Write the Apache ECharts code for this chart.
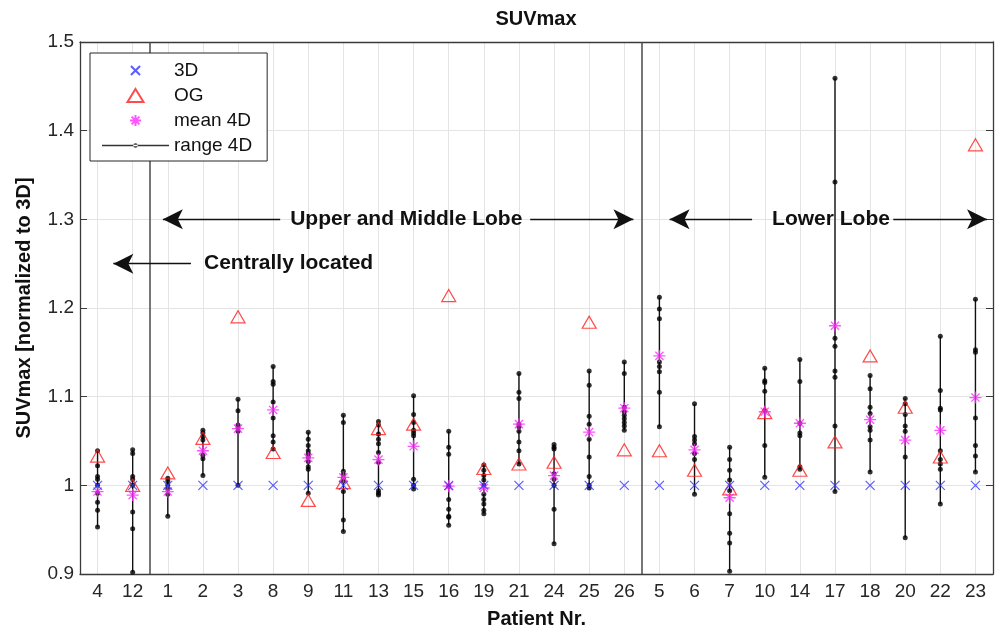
<!DOCTYPE html>
<html>
<head>
<meta charset="utf-8">
<script src="https://cdn.jsdelivr.net/npm/echarts@6.0.0/dist/echarts.min.js"></script>
<style>
  html, body { margin: 0; padding: 0; background: #fff; }
  #chart { width: 998px; height: 634px; }
</style>
</head>
<body>
<div id="chart"></div>
<script>
// patient order on the x axis
const patients = ['4', '12', '1', '2', '3', '8', '9', '11', '13', '15', '16', '19', '21', '24', '25', '26',
                  '5', '6', '7', '10', '14', '17', '18', '20', '22', '23'];

// normalized to 3D, so 3D is always 1
const suv3D = [1, 1, 1, 1, 1, 1, 1, 1, 1, 1, 1, 1, 1, 1, 1, 1, 1, 1, 1, 1, 1, 1, 1, 1, 1, 1];

const suvOG = [1.033, 1.0, 1.014, 1.053, 1.190, 1.037, 0.983, 1.003, 1.064, 1.069, 1.214, 1.019, 1.024,
               1.026, 1.184, 1.040, 1.039, 1.017, 0.996, 1.082, 1.017, 1.049, 1.146, 1.088, 1.032, 1.384];

const mean4D = [0.993, 0.989, 0.993, 1.039, 1.064, 1.085, 1.031, 1.009, 1.029, 1.044, 0.999, 0.997, 1.069,
                1.011, 1.060, 1.087, 1.146, 1.040, 0.986, 1.083, 1.070, 1.180, 1.074, 1.051, 1.062, 1.099];

// single phase values of the 4D scan, one list per patient
const range4D = [
  [1.039, 1.022, 1.010, 1.007, 1.0, 0.991, 0.981, 0.972, 0.953],
  [1.040, 1.036, 1.010, 1.007, 1.0, 0.970, 0.951, 0.902],
  [1.008, 1.005, 1.0, 0.996, 0.990, 0.965],
  [1.062, 1.059, 1.055, 1.051, 1.034, 1.030, 1.011],
  [1.097, 1.084, 1.068, 1.065, 1.061, 1.0],
  [1.134, 1.117, 1.114, 1.094, 1.076, 1.056, 1.049, 1.041],
  [1.060, 1.052, 1.045, 1.039, 1.036, 1.032, 1.027, 1.021, 1.018, 0.991],
  [1.079, 1.071, 1.016, 1.012, 1.008, 1.005, 0.993, 0.961, 0.948],
  [1.072, 1.068, 1.058, 1.052, 1.047, 1.037, 1.026, 0.994, 0.991, 0.989],
  [1.101, 1.080, 1.071, 1.062, 1.059, 1.056, 1.007, 1.0, 0.996],
  [1.061, 1.043, 1.035, 0.999, 0.984, 0.973, 0.965, 0.964, 0.955],
  [1.023, 1.017, 1.011, 1.006, 1.0, 0.990, 0.984, 0.979, 0.972, 0.968],
  [1.126, 1.105, 1.098, 1.069, 1.066, 1.061, 1.049, 1.039, 1.024],
  [1.046, 1.043, 1.041, 1.013, 1.007, 1.0, 0.973, 0.934],
  [1.129, 1.113, 1.078, 1.069, 1.052, 1.032, 1.010, 1.0, 0.997],
  [1.139, 1.126, 1.088, 1.083, 1.079, 1.075, 1.071, 1.067, 1.062],
  [1.212, 1.199, 1.188, 1.139, 1.134, 1.128, 1.105, 1.066],
  [1.092, 1.055, 1.051, 1.047, 1.036, 1.029, 0.990],
  [1.043, 1.029, 1.017, 1.006, 0.994, 0.968, 0.946, 0.935, 0.903],
  [1.132, 1.118, 1.116, 1.106, 1.084, 1.045, 1.009],
  [1.142, 1.117, 1.070, 1.059, 1.056, 1.021, 1.018],
  [1.459, 1.342, 1.166, 1.157, 1.129, 1.122, 1.067, 0.993],
  [1.124, 1.109, 1.088, 1.081, 1.066, 1.062, 1.051, 1.015],
  [1.098, 1.092, 1.080, 1.067, 1.061, 1.032, 0.941],
  [1.168, 1.107, 1.087, 1.085, 1.039, 1.029, 1.024, 1.018, 0.979],
  [1.210, 1.153, 1.150, 1.076, 1.045, 1.033, 1.015]
];

const font = "'Liberation Sans', Arial, Helvetica, sans-serif";
const axisColor = '#3a3a3a';
const gridColor = '#e4e4e4';

const xMark = 'path://M0,0L10,10M10,0L0,10';
const starMark = 'path://M5,0L5,10M0,5L10,5M1.6,1.6L8.4,8.4M8.4,1.6L1.6,8.4';

const chart = echarts.init(document.getElementById('chart'));

const dots = [];
range4D.forEach((vals, i) => vals.forEach(v => dots.push([i, v])));
const spans = range4D.map((vals, i) => [i, Math.min(...vals), Math.max(...vals)]);

// vertical grid through every patient, as in the matlab grid
const vGrid = patients.map((p, i) => [
  { coord: [i, 0.9], lineStyle: { color: gridColor, width: 1 } }, { coord: [i, 1.5] }
]);

const lbl = (text, dist) => ({
  show: true, position: 'end', distance: dist, formatter: text,
  fontFamily: font, fontSize: 21, fontWeight: 'bold', color: '#111'
});

chart.setOption({
  animation: false,
  title: {
    text: 'SUVmax', left: 536, top: 9, padding: 0, textAlign: 'center',
    textStyle: { fontFamily: font, fontSize: 20, fontWeight: 'bold', color: '#111' }
  },
  legend: {
    orient: 'vertical', left: 90, top: 53,
    padding: [8, 15, 6, 12],
    itemWidth: 67, itemHeight: 13, itemGap: 6,
    backgroundColor: '#fff', borderColor: '#262626', borderWidth: 1,
    borderRadius: 0,
    textStyle: { fontFamily: font, fontSize: 19, color: '#111' },
    data: [
      { name: '3D', icon: 'path://M0,0M20,20M3,3L17,17M17,3L3,17' },
      { name: 'OG', icon: 'path://M8,0L16,13L0,13Z' },
      { name: 'mean 4D', icon: 'path://M0,0M14,14M7,1L7,13M1,7L13,7M2.8,2.8L11.2,11.2M11.2,2.8L2.8,11.2' },
      { name: 'range 4D', icon: 'path://M0,5.25L134,5.25L134,8.25L0,8.25Z M67,6.75m-4.5,0a4.5,4.5 0 1,0 9,0a4.5,4.5 0 1,0 -9,0' }
    ],
    z: 10
  },
  grid: { left: 80, right: 5, top: 42, bottom: 57 },
  xAxis: [
    {
      type: 'category', data: patients, position: 'bottom',
      name: 'Patient Nr.', nameLocation: 'middle', nameGap: 35,
      nameTextStyle: { fontFamily: font, fontSize: 20, fontWeight: 'bold', color: '#111' },
      axisLine: { onZero: false, lineStyle: { color: axisColor, width: 1.3 } },
      axisTick: { inside: true, alignWithLabel: true, length: 7, lineStyle: { color: axisColor } },
      axisLabel: { interval: 0, margin: 8, fontFamily: font, fontSize: 19, color: '#262626' },
      splitLine: { show: false }
    },
    {
      type: 'category', data: patients, position: 'top',
      axisLine: { onZero: false, lineStyle: { color: axisColor, width: 1.3 } },
      axisTick: { inside: true, alignWithLabel: true, length: 7, lineStyle: { color: axisColor } },
      axisLabel: { show: false },
      splitLine: { show: false }
    },
    { type: 'value', min: -0.5, max: 25.5, show: false }
  ],
  yAxis: [
    {
      type: 'value', min: 0.9, max: 1.5, interval: 0.1, position: 'left',
      name: 'SUVmax [normalized to 3D]', nameLocation: 'middle', nameGap: 46,
      nameTextStyle: { fontFamily: font, fontSize: 20, fontWeight: 'bold', color: '#111' },
      axisLine: { show: true, onZero: false, lineStyle: { color: axisColor, width: 1.3 } },
      axisTick: { show: true, inside: true, length: 7, lineStyle: { color: axisColor } },
      axisLabel: { margin: 6, fontFamily: font, fontSize: 19, color: '#262626' },
      splitLine: { show: true, lineStyle: { color: gridColor, width: 1 } }
    },
    {
      type: 'value', min: 0.9, max: 1.5, interval: 0.1, position: 'right',
      axisLine: { show: true, onZero: false, lineStyle: { color: axisColor, width: 1.3 } },
      axisTick: { show: true, inside: true, length: 7, lineStyle: { color: axisColor } },
      axisLabel: { show: false },
      splitLine: { show: false }
    }
  ],
  series: [
    {
      name: 'grid', type: 'line', data: [], silent: true, z: 0,
      markLine: {
        silent: true, z: 0, symbol: ['none', 'none'], label: { show: false },
        lineStyle: { type: 'solid' }, data: vGrid
      }
    },
    {
      name: 'range line', type: 'custom', data: spans, silent: true, z: 2,
      encode: { x: 0, y: [1, 2] },
      renderItem: (params, api) => {
        const a = api.coord([api.value(0), api.value(1)]);
        const b = api.coord([api.value(0), api.value(2)]);
        return { type: 'line', shape: { x1: a[0], y1: a[1], x2: b[0], y2: b[1] },
                 style: { stroke: '#111', lineWidth: 1.4 } };
      }
    },
    {
      name: 'range 4D', type: 'scatter', data: dots, symbol: 'circle', symbolSize: 5, z: 3,
      itemStyle: { color: '#000' }
    },
    {
      name: 'OG', type: 'scatter', data: suvOG.map((v, i) => [i, v]),
      symbol: 'triangle', symbolSize: [14, 12], z: 4,
      itemStyle: { color: 'transparent', borderColor: '#ff1e1e', borderWidth: 1.2 }
    },
    {
      name: 'mean 4D', type: 'scatter', data: mean4D.map((v, i) => [i, v]),
      symbol: starMark, symbolSize: 12, z: 5,
      itemStyle: { color: 'transparent', borderColor: '#ff2bff', borderWidth: 1.3 }
    },
    {
      name: '3D', type: 'scatter', data: suv3D.map((v, i) => [i, v]),
      symbol: xMark, symbolSize: 9, z: 6,
      itemStyle: { color: 'transparent', borderColor: '#3535ff', borderWidth: 1.2 }
    },
    {
      name: 'notes', type: 'line', xAxisIndex: 2, data: [], silent: true, z: 1,
      markLine: {
        silent: true, symbol: ['none', 'none'], symbolSize: [15, 20],
        lineStyle: { color: '#111', width: 1.3, type: 'solid' },
        label: { show: false },
        data: [
          [{ coord: [1.5, 0.9], lineStyle: { color: '#4a4a4a', width: 1.5 } }, { coord: [1.5, 1.5] }],
          [{ coord: [15.5, 0.9], lineStyle: { color: '#4a4a4a', width: 1.5 } }, { coord: [15.5, 1.5] }],
          [{ coord: [1.86, 1.3], symbol: 'arrow' }, { coord: [5.2, 1.3], symbol: 'none', label: lbl('Upper and Middle Lobe', 10) }],
          [{ coord: [12.32, 1.3], symbol: 'none' }, { coord: [15.26, 1.3], symbol: 'arrow' }],
          [{ coord: [16.29, 1.3], symbol: 'arrow' }, { coord: [18.64, 1.3], symbol: 'none', label: lbl('Lower Lobe', 20) }],
          [{ coord: [22.66, 1.3], symbol: 'none' }, { coord: [25.33, 1.3], symbol: 'arrow' }],
          [{ coord: [0.45, 1.25], symbol: 'arrow' }, { coord: [2.66, 1.25], symbol: 'none', label: lbl('Centrally located', 13) }]
        ]
      }
    }
  ]
});
</script>
</body>
</html>
